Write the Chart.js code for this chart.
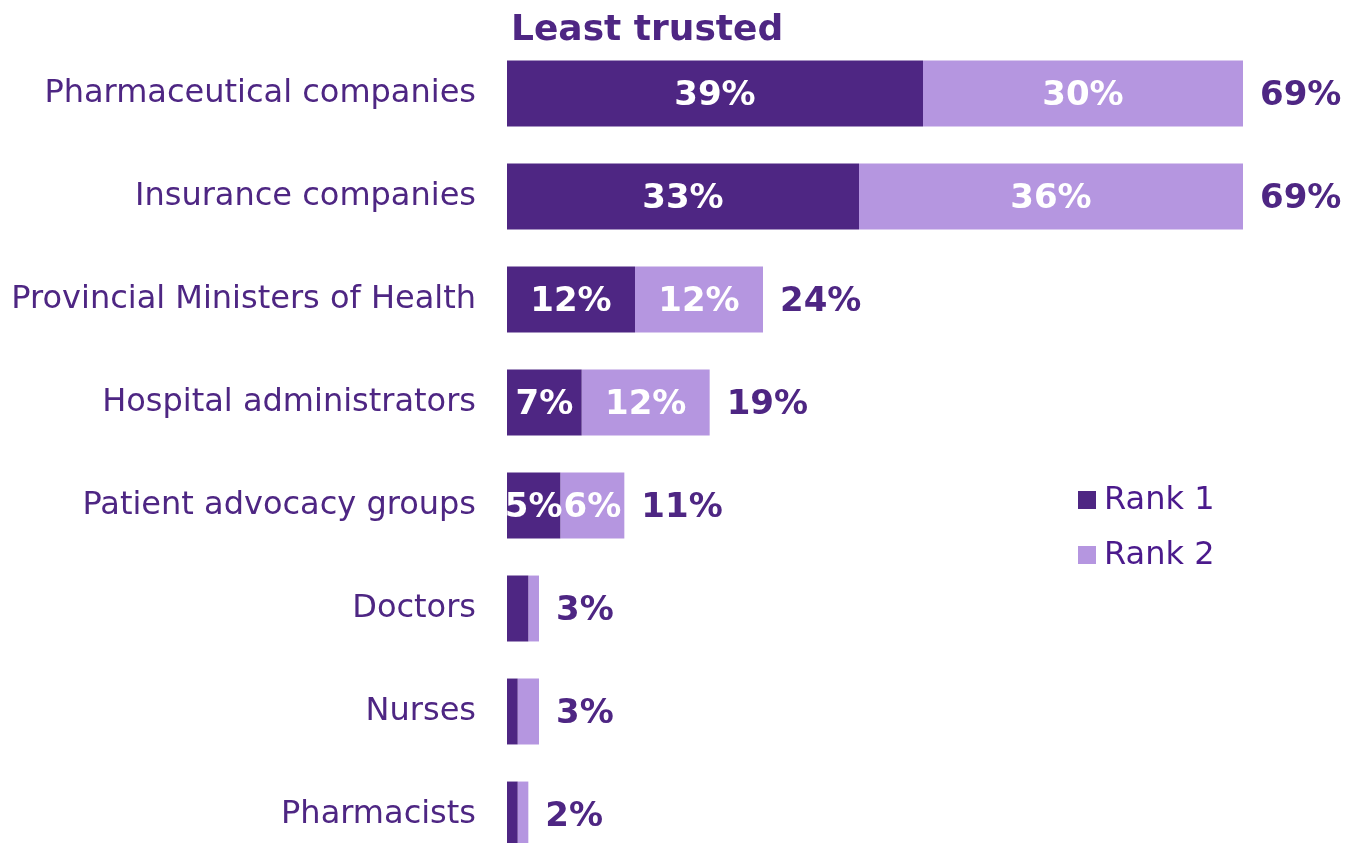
<!DOCTYPE html>
<html><head><meta charset="utf-8">
<script src="https://cdn.jsdelivr.net/npm/chart.js@4/dist/chart.umd.min.js"></script>
<style>html,body{margin:0;padding:0;overflow:hidden;background:#fff;}canvas{display:block;}</style>
</head><body>
<canvas id="c" width="1349" height="870" style="width:1349px;height:870px"></canvas>
<script>
const categories = ["Pharmaceutical companies","Insurance companies","Provincial Ministers of Health","Hospital administrators","Patient advocacy groups","Doctors","Nurses","Pharmacists"];
const rank1 = [39,33,12,7,5,2,1,1];
const rank2 = [30,36,12,12,6,1,2,1];
const totals = [69,69,24,19,11,3,3,2];
const seriesNames = ["Rank 1","Rank 2"];
const titleText = "Least trusted";
const DARK = "#4e2683", LIGHT = "#b596e0", TEXT = "#4e2683";
const FONT = "DejaVu Sans";

const labelsPlugin = {
  id: "labelsPlugin",
  afterDatasetsDraw(chart) {
    const ctx = chart.ctx;
    ctx.save();
    ctx.font = "bold 34px '" + FONT + "'";
    ctx.textBaseline = "middle";
    chart.data.datasets.forEach((ds, di) => {
      const meta = chart.getDatasetMeta(di);
      meta.data.forEach((bar, i) => {
        const v = ds.data[i];
        if (v >= 5) {
          ctx.fillStyle = "#ffffff";
          ctx.textAlign = "center";
          ctx.fillText(v + "%", (bar.x + bar.base) / 2, bar.y + 3);
        }
      });
    });
    const last = chart.getDatasetMeta(chart.data.datasets.length - 1);
    last.data.forEach((bar, i) => {
      ctx.fillStyle = TEXT;
      ctx.textAlign = "left";
      ctx.fillText(totals[i] + "%", bar.x + 17, bar.y + 3);
    });
    ctx.font = "bold 36px '" + FONT + "'";
    ctx.textAlign = "left";
    ctx.textBaseline = "alphabetic";
    ctx.fillStyle = TEXT;
    ctx.fillText(titleText, 511, 40);
    ctx.font = "32px '" + FONT + "'";
    ctx.textBaseline = "middle";
    chart.data.datasets.forEach((ds, di) => {
      const y = 500 + di * 55;
      ctx.fillStyle = ds.backgroundColor;
      ctx.fillRect(1078, y - 9, 18, 18);
      ctx.fillStyle = "#4b1a8c";
      ctx.fillText(ds.label, 1104, y + 1);
    });
    ctx.restore();
  }
};

new Chart(document.getElementById("c"), {
  type: "bar",
  data: {
    labels: categories,
    datasets: [
      { label: seriesNames[0], data: rank1, backgroundColor: DARK, borderWidth: 0 },
      { label: seriesNames[1], data: rank2, backgroundColor: LIGHT, borderWidth: 0 }
    ]
  },
  options: {
    indexAxis: "y",
    responsive: false,
    animation: false,
    layout: { padding: { top: 42, bottom: 4, left: 0, right: 10 } },
    datasets: { bar: { categoryPercentage: 1, barPercentage: 0.64 } },
    plugins: { legend: { display: false }, title: { display: false }, tooltip: { enabled: false } },
    scales: {
      x: { stacked: true, min: 0, max: 78, display: false },
      y: {
        stacked: true,
        grid: { display: false },
        border: { display: false },
        ticks: { color: TEXT, font: { family: FONT, size: 32 }, padding: 23 },
        afterFit(scale) { scale.width = 507; scale.paddingTop = 0; scale.paddingBottom = 0; }
      }
    }
  },
  plugins: [labelsPlugin]
});
</script>
</body></html>
